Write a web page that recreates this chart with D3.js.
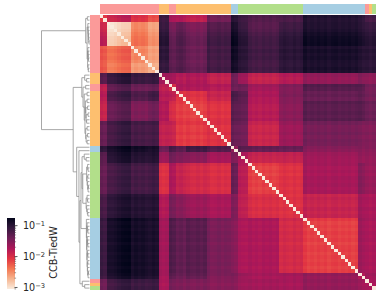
<!DOCTYPE html>
<html>
<head>
<meta charset="utf-8">
<script src="https://cdn.jsdelivr.net/npm/d3@7"></script>
<style>
  html, body { margin: 0; background: #fff; }
  svg { display: block; }
  text { font-family: "DejaVu Sans", sans-serif; fill: #262626; }
</style>
</head>
<body>
<div class="chart"></div>
<script>
const width = 378;
const height = 300;

// cluster colours along the diagonal: [colour, number of leaves]
const clusterRuns = [
  ["#fb9a99", 17], ["#fdbf6f", 3], ["#fb9a99", 2], ["#fdbf6f", 16], ["#a6cee3", 2],
  ["#b2df8a", 19], ["#a6cee3", 18], ["#fb9a99", 1], ["#fdbf6f", 1], ["#b2df8a", 1]
];

// leaf count of each block of similar rows / columns
const blockSizes = [2, 7, 5, 3, 3, 2, 3, 6, 7, 2, 3, 9, 7, 16, 2, 3];

// log10(CCB-TiedW) per block, row by column (not quite symmetric)
const blockLog = [
  [-2.10, -1.85, -2.05, -2.20, -1.13, -1.71, -1.75, -1.85, -1.42, -1.00, -1.13, -1.25, -1.20, -0.97, -1.05, -1.20],
  [-1.85, -2.83, -2.41, -2.55, -1.02, -1.37, -1.27, -1.40, -1.18, -0.83, -1.02, -1.20, -1.05, -0.87, -0.95, -1.03],
  [-2.25, -2.30, -2.50, -2.62, -1.05, -1.33, -1.27, -1.40, -1.18, -0.86, -1.02, -1.17, -1.03, -0.92, -1.00, -1.03],
  [-2.25, -2.35, -2.60, -2.68, -1.08, -1.30, -1.25, -1.36, -1.16, -0.88, -1.02, -1.17, -1.03, -0.92, -1.00, -1.03],
  [-1.30, -1.03, -1.13, -1.10, -1.70, -1.70, -1.80, -1.77, -1.88, -1.42, -1.67, -1.90, -1.80, -1.62, -1.55, -1.60],
  [-1.85, -1.27, -1.40, -1.35, -1.85, -2.00, -1.75, -1.75, -1.78, -1.40, -1.40, -1.68, -1.50, -1.27, -1.30, -1.45],
  [-1.80, -1.13, -1.25, -1.15, -1.80, -1.85, -2.05, -2.05, -1.90, -1.20, -1.30, -1.75, -1.50, -1.37, -1.35, -1.45],
  [-1.90, -1.30, -1.50, -1.40, -1.77, -2.00, -2.12, -2.14, -2.05, -1.30, -1.35, -1.80, -1.55, -1.30, -1.30, -1.40],
  [-1.37, -1.10, -1.20, -1.17, -1.87, -1.90, -2.10, -2.10, -2.05, -1.37, -1.42, -1.92, -1.65, -1.45, -1.50, -1.52],
  [-1.05, -0.82, -0.88, -0.90, -1.40, -1.20, -1.30, -1.15, -1.25, -1.60, -1.30, -1.35, -1.37, -1.55, -1.55, -1.55],
  [-1.30, -0.92, -1.00, -0.97, -1.65, -1.42, -1.50, -1.55, -1.70, -1.50, -1.75, -1.90, -1.88, -1.68, -1.62, -1.62],
  [-1.37, -1.12, -1.20, -1.15, -2.05, -1.75, -1.90, -1.98, -2.02, -1.37, -1.82, -2.14, -2.05, -1.72, -1.55, -1.65],
  [-1.20, -0.96, -1.00, -0.98, -1.78, -1.45, -1.55, -1.65, -1.72, -1.50, -1.85, -2.02, -2.05, -1.90, -1.70, -1.75],
  [-1.13, -0.82, -0.90, -0.92, -1.70, -1.25, -1.35, -1.30, -1.47, -1.55, -1.75, -1.75, -1.98, -2.14, -1.68, -1.75],
  [-1.15, -0.87, -0.93, -0.95, -1.72, -1.32, -1.40, -1.35, -1.50, -1.50, -1.65, -1.72, -1.70, -1.62, -1.80, -1.70],
  [-1.42, -1.10, -1.15, -1.12, -1.75, -1.45, -1.50, -1.50, -1.55, -1.55, -1.68, -1.70, -1.72, -1.62, -1.70, -1.75]
];

// stripe of each leaf on top of its block, in log10 units
const leafStripe = [
  0.02, -0.02, -0.1, -0.1, -0.07, -0.02, 0.02, 0.03, 0.04, -0.02, 0.03, -0.01, 0.02, -0.02, -0.03, 0.01, -0.02,
  0.02, -0.02, 0.01, 0.02, -0.02,
  -0.01, 0.02, -0.03, 0.02, -0.02, -0.03, 0.01, -0.03, 0.02, 0.03, -0.03, -0.02, 0.02, -0.03, 0.01, -0.01,
  0.02, -0.02, 0.02, -0.01, -0.02, 0.03, -0.02, 0.01, -0.03, 0.02, -0.01, 0.02, -0.02, 0.01,
  -0.02, 0.02, -0.01, -0.03, 0.02, -0.02, 0.01,
  0.04, -0.02, 0.01, -0.02, 0.02, -0.01, 0.02, -0.03, 0.01, 0.02, -0.02, 0.01, -0.01, 0.02, -0.02, 0.01,
  0.03, -0.02, 0.02, -0.02, 0.02
];

// linkage: [height, left, right], numbers are leaves
const linkage = [100,
  [8, [4.5, 0, 1],
    [5, [3.5, 2, [3, 3, [2.5, 4, [2, 5, [1.5, 6, [1, 7, 8]]]]]],
      [4, [3.5, 9, [3, 10, [2.5, 11, [2, 12, 13]]]], [3, 14, [2.5, 15, 16]]]]],
  [34,
    [16, [10, 17, [6, 18, 19]],
      [13.5, [8, 20, 21],
        [11, [5, 22, 23],
          [9.5, [8.5, [5, 24, 25], [7.5, [4, 26, 27], [7, [3, 28, 29], [6, 30, 31]]]],
            [8, [5, 32, 33], [7, [4, 34, 35], [5, 36, 37]]]]]]],
    [26.7, 38,
      [22, 39,
        [20,
          [17.7,
            [15.5, [11, 40, [7, 41, 42]],
              [14,
                [6, [4, 43, [3, 44, 45]], [5, [3.5, 46, 47], [4, 48, [3, [2, 49, 50], 51]]]],
                [7, [5, 52, [4, 53, 54]], [6, 55, [4.5, 56, [3.5, 57, 58]]]]]],
            [6.5, 59, [6, [5, 60, [4, 61, [3.5, 62, 63]]],
              [5.5, [4.5, 64, [4, 65, [3.5, 66, 67]]],
                [5, [4, 68, [3.5, 69, 70]], [4.5, [3.5, 71, 72], [4, 73, [3, [2, 74, 75], 76]]]]]]]],
          [15, 77, [10, 78, 79]]]]]]];

const colorbarTicks = [1e-1, 1e-2, 1e-3];
const colorbarMinor = [9e-4, 2e-3, 3e-3, 4e-3, 5e-3, 6e-3, 7e-3, 8e-3, 9e-3, 2e-2, 3e-2, 4e-2, 5e-2, 6e-2, 7e-2, 8e-2, 9e-2];
const colorRange = [8.6e-4, 0.17];

// seaborn rocket, dark to light
const rocketStops = ["#03051a", "#35193e", "#701f57", "#ad1759", "#e13342", "#f37651", "#f6b48f", "#faebdd"];

const leaves = d3.range(80);
const leafColor = clusterRuns.flatMap(([c, n]) => d3.range(n).map(() => c));
const leafBlock = blockSizes.flatMap((n, b) => d3.range(n).map(() => b));

const rocket = d3.piecewise(d3.interpolateRgb, rocketStops);
const color = d3.scaleSequentialLog(t => rocket(1 - t)).domain(colorRange);

const xScale = d3.scaleBand().domain(leaves).range([100, 375.6]);
const yScale = d3.scaleBand().domain(leaves).range([15, 289.8]);
const heightScale = d3.scaleLinear().domain([0, 100]).range([89.5, 41.5]);
const barScale = d3.scaleLog().domain(colorRange).range([289, 218]);

function cellValue(i, j) {
  if (i === j) return colorRange[0];
  return Math.pow(10, blockLog[leafBlock[i]][leafBlock[j]] + leafStripe[i] + leafStripe[j]);
}

const cells = leaves.flatMap(i => leaves.map(j => ({ i, j, value: cellValue(i, j) })));

const svg = d3.select(".chart").append("svg")
  .attr("width", width)
  .attr("height", height);

// heatmap
svg.append("g")
  .style("filter", "blur(0.45px)")
  .attr("shape-rendering", "crispEdges")
  .selectAll("rect")
  .data(cells)
  .enter()
  .append("rect")
  .attr("x", d => xScale(d.j))
  .attr("y", d => yScale(d.i))
  .attr("width", xScale.bandwidth() + 0.3)
  .attr("height", yScale.bandwidth() + 0.3)
  .attr("fill", d => color(d.value));

// cluster colour strips
svg.append("g")
  .attr("shape-rendering", "crispEdges")
  .selectAll("rect")
  .data(leaves)
  .enter()
  .append("rect")
  .attr("x", d => xScale(d))
  .attr("y", 4)
  .attr("width", xScale.bandwidth() + 0.3)
  .attr("height", 10)
  .attr("fill", d => leafColor[d]);

svg.append("g")
  .attr("shape-rendering", "crispEdges")
  .selectAll("rect")
  .data(leaves)
  .enter()
  .append("rect")
  .attr("x", 90)
  .attr("y", d => yScale(d))
  .attr("width", 10)
  .attr("height", yScale.bandwidth() + 0.3)
  .attr("fill", d => leafColor[d]);

// dendrogram
const root = d3.hierarchy(linkage, d => Array.isArray(d) ? d.slice(1) : null);
root.eachAfter(node => {
  if (node.children) {
    node.h = node.data[0];
    node.pos = d3.mean(node.children, c => c.pos);
  } else {
    node.h = 0;
    node.pos = yScale(node.data) + yScale.bandwidth() / 2;
  }
});

const bracket = d3.line();
svg.append("g")
  .selectAll("path")
  .data(root.descendants().filter(d => d.children))
  .enter()
  .append("path")
  .attr("d", d => {
    const [a, b] = d.children;
    return bracket([
      [heightScale(a.h), a.pos],
      [heightScale(d.h), a.pos],
      [heightScale(d.h), b.pos],
      [heightScale(b.h), b.pos]
    ]);
  })
  .attr("fill", "none")
  .attr("stroke", "#8c8c8c")
  .attr("stroke-opacity", 0.85)
  .attr("stroke-width", 0.9);

// colorbar
const barSteps = d3.range(71);
svg.append("g")
  .attr("shape-rendering", "crispEdges")
  .selectAll("rect")
  .data(barSteps)
  .enter()
  .append("rect")
  .attr("x", 7.3)
  .attr("y", d => 218 + d)
  .attr("width", 7.2)
  .attr("height", 1.3)
  .attr("fill", d => color(barScale.invert(218 + d + 0.5)));

const barAxis = svg.append("g").attr("transform", "translate(14.5,0)");
barAxis.call(d3.axisRight(barScale).tickValues(colorbarMinor).tickSize(1.6).tickFormat(""));
barAxis.select(".domain").remove();
barAxis.selectAll("line").attr("stroke", "#555").attr("stroke-width", 0.6);

const majorAxis = svg.append("g").attr("transform", "translate(14.5,0)");
majorAxis.call(d3.axisRight(barScale).tickValues(colorbarTicks).tickSize(3).tickFormat(""));
majorAxis.select(".domain").remove();
majorAxis.selectAll("line").attr("stroke", "#333").attr("stroke-width", 0.8);

const labels = majorAxis.selectAll(".tick text")
  .attr("x", 8.5)
  .attr("dy", "0.32em")
  .style("font-size", "9.6px")
  .style("text-anchor", "start");
labels.append("tspan").text("10");
labels.append("tspan")
  .attr("dy", "-0.45em")
  .style("font-size", "6.7px")
  .text(d => `\u2212${Math.round(-Math.log10(d))}`);

svg.append("text")
  .attr("transform", "translate(57,252.5) rotate(-90)")
  .style("text-anchor", "middle")
  .style("font-size", "9.6px")
  .text("CCB-TiedW");
</script>
</body>
</html>
